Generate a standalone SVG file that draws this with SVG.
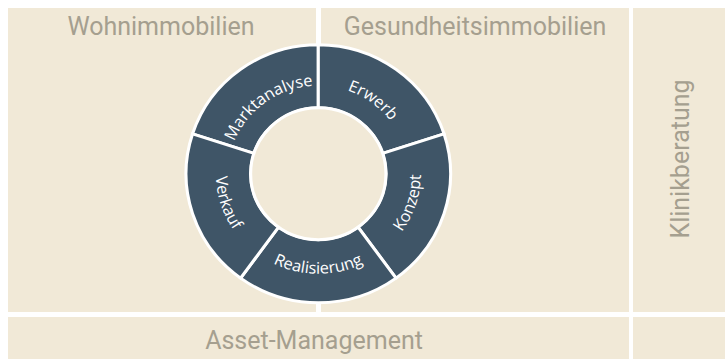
<svg xmlns="http://www.w3.org/2000/svg" width="725" height="359" viewBox="0 0 725 359">
  <style>
    .area { fill: #f1e9d7; }
    .alabel { font-family: Roboto, "Liberation Sans", sans-serif; font-weight: 400; font-size: 25px; fill: #a59f8f; text-anchor: middle; }
    .seg { fill: #3f5567; stroke: #ffffff; stroke-width: 3; stroke-linejoin: miter; }
    .hole { fill: #f1e9d7; stroke: #ffffff; stroke-width: 3; }
    .slabel { font-family: "Open Sans", "Liberation Sans", sans-serif; font-size: 16px; fill: #ffffff; }
  </style>
  <defs>
    <path id="p-markt" d="M 238.91 212.08 A 88 88 0 0 1 379.13 110.20"/>
    <path id="p-erwerb" d="M 256.87 110.20 A 88 88 0 0 1 397.09 212.08"/>
    <path id="p-konzept" d="M 304.08 272.53 A 100 100 0 0 0 364.95 85.20"/>
    <path id="p-real" d="M 219.52 190.87 A 100 100 0 0 0 416.48 190.87"/>
    <path id="p-verkauf" d="M 271.05 85.20 A 100 100 0 0 0 331.92 272.53"/>
  </defs>
  <rect width="725" height="359" fill="#ffffff"/>
  <g id="wohnimmobilien">
    <rect class="area" x="8" y="8" width="308" height="304"/>
    <text class="alabel" x="161" y="35">Wohnimmobilien</text>
  </g>
  <g id="gesundheitsimmobilien">
    <rect class="area" x="321" y="8" width="308" height="304"/>
    <text class="alabel" x="475" y="35">Gesundheitsimmobilien</text>
  </g>
  <g id="klinikberatung">
    <rect class="area" x="633" y="8" width="92" height="304"/>
    <text class="alabel" transform="translate(689 159) rotate(-90)">Klinikberatung</text>
  </g>
  <g id="asset-management">
    <rect class="area" x="8" y="317" width="621" height="42"/>
    <text class="alabel" x="314" y="349">Asset-Management</text>
  </g>
  <g id="corner">
    <rect class="area" x="633" y="317" width="92" height="42"/>
  </g>
  <g id="cycle" transform="translate(318.3 173.75) scale(1.025 1) translate(-318 -173.5)">
    <g id="marktanalyse">
      <path class="seg" d="M 195.31 133.64 A 129 129 0 0 1 318 44.5 L 318 107.5 A 66 66 0 0 0 255.23 153.10 Z"/>
      <text class="slabel"><textPath href="#p-markt" startOffset="50%" text-anchor="middle">Marktanalyse</textPath></text>
    </g>
    <g id="erwerb">
      <path class="seg" d="M 318 44.5 A 129 129 0 0 1 440.69 133.64 L 380.77 153.10 A 66 66 0 0 0 318 107.5 Z"/>
      <text class="slabel"><textPath href="#p-erwerb" startOffset="50%" text-anchor="middle">Erwerb</textPath></text>
    </g>
    <g id="konzept">
      <path class="seg" d="M 440.69 133.64 A 129 129 0 0 1 393.82 277.86 L 356.79 226.90 A 66 66 0 0 0 380.77 153.10 Z"/>
      <text class="slabel"><textPath href="#p-konzept" startOffset="50%" text-anchor="middle">Konzept</textPath></text>
    </g>
    <g id="realisierung">
      <path class="seg" d="M 393.82 277.86 A 129 129 0 0 1 242.18 277.86 L 279.21 226.90 A 66 66 0 0 0 356.79 226.90 Z"/>
      <text class="slabel"><textPath href="#p-real" startOffset="50%" text-anchor="middle">Realisierung</textPath></text>
    </g>
    <g id="verkauf">
      <path class="seg" d="M 242.18 277.86 A 129 129 0 0 1 195.31 133.64 L 255.23 153.10 A 66 66 0 0 0 279.21 226.90 Z"/>
      <text class="slabel"><textPath href="#p-verkauf" startOffset="50%" text-anchor="middle">Verkauf</textPath></text>
    </g>
    <g id="hub">
      <circle class="hole" cx="318" cy="173.5" r="66"/>
    </g>
  </g>
  <g id="connectors"/>
</svg>
